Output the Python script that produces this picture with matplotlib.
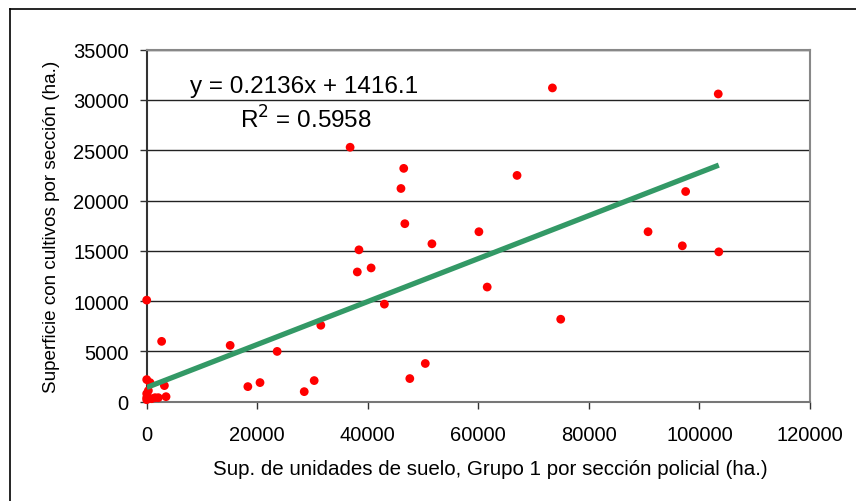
# Import Libraries
import numpy as np
import matplotlib.pyplot as plt
from matplotlib.lines import Line2D

plt.rcParams['font.family'] = ['Liberation Sans', 'DejaVu Sans']

# Data
sup_grupo1 = [73400, 103400, 97500, 90700, 96900, 103500, 74900, 36800, 46500, 46000,
              67000, 46700, 60100, 51600, 38400, 38100, 40600, 61600, 43000, 31500,
              50400, 47600, 30300, 28500, 2700, 15100, 23600, 0, 0, 600,
              3200, 18300, 20500, 3500, 0, 0, 300, 900, 1500, 2100, 0]
sup_cultivos = [31200, 30600, 20900, 16900, 15500, 14900, 8200, 25300, 23200, 21200,
                22500, 17700, 16900, 15700, 15100, 12900, 13300, 11400, 9700, 7600,
                3800, 2300, 2100, 1000, 6000, 5600, 5000, 10100, 2200, 1900,
                1600, 1500, 1900, 500, 800, 400, 1100, 300, 400, 400, 200]
trend_coef = [0.2136, 1416.1]
r2 = 0.5958
xticks = [0, 20000, 40000, 60000, 80000, 100000, 120000]
yticks = [0, 5000, 10000, 15000, 20000, 25000, 30000, 35000]

fig = plt.figure(figsize=(8.56, 5.02), dpi=100)
ax = fig.add_axes([146.7/856, 1-402.7/502, (810-146.7)/856, (402.7-50.7)/502])

# grid
for yv in yticks[1:]:
    ax.axhline(yv, color='#222222', lw=1.0, zorder=1)

# points
ax.scatter(sup_grupo1, sup_cultivos, s=40, color='#ff0000', edgecolors='none',
           zorder=3, clip_on=False)

# trend line
xt = np.array([0, max(sup_grupo1)])
ax.plot(xt, trend_coef[0]*xt + trend_coef[1], color='#339966', lw=3.8,
        solid_capstyle='butt', zorder=4)

ax.set_xlim(0, 120000)
ax.set_ylim(0, 35000)
ax.set_xticks(xticks)
ax.set_yticks(yticks)
ax.tick_params(direction='out', length=5, width=1, labelsize=14.5, pad=8, color='#333333')
ax.tick_params(axis='x', pad=12)

for side in ['top', 'right']:
    ax.spines[side].set_color('#888888')
    ax.spines[side].set_linewidth(1.5)
ax.spines['left'].set_color('#333333')
ax.spines['left'].set_linewidth(1.5)
ax.spines['bottom'].set_color('#777777')
ax.spines['bottom'].set_linewidth(1.5)

ax.set_xlabel('Sup. de unidades de suelo, Grupo 1 por sección policial (ha.)', fontsize=14.8)
ax.xaxis.set_label_coords(0.5176, -0.163)
ax.set_ylabel('Superficie con cultivos por sección (ha.)', fontsize=13.6, labelpad=9)

# equation
ax.text(190/856, 1-87/502, 'y = %.4fx + %.1f' % (trend_coef[0], trend_coef[1]),
        transform=fig.transFigure, fontsize=17.5, va='center', ha='left')
ax.text(240/856, 1-120/502, 'R$^2$ = %.4f' % r2,
        transform=fig.transFigure, fontsize=17.5, va='center', ha='left')

# outer frame (left and top visible)
fig.add_artist(Line2D([10/856, 10/856], [0, 1-10/502], color='black', lw=1.2))
fig.add_artist(Line2D([10/856, 1], [1-10/502, 1-10/502], color='black', lw=1.2))

plt.savefig('out.png', dpi=100)
